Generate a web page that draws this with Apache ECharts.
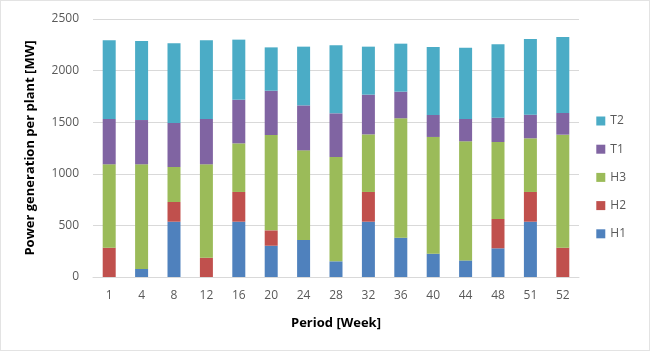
<!DOCTYPE html>
<html>
<head>
<meta charset="utf-8">
<script src="https://cdn.jsdelivr.net/npm/echarts@6/dist/echarts.min.js"></script>
<style>
  html, body { margin: 0; padding: 0; background: #fff; }
  #chart { width: 648px; height: 349px; border: 1px solid #e3e3e3; }
</style>
</head>
<body>
<div id="chart"></div>
<script>
// weeks on the x axis
var weeks = ['1', '4', '8', '12', '16', '20', '24', '28', '32', '36', '40', '44', '48', '51', '52'];

// MW per plant
var h1 = [0, 78, 536, 0, 536, 303, 359, 152, 536, 381, 226, 161, 278, 536, 0];
var h2 = [284, 0, 191, 187, 288, 149, 0, 0, 288, 0, 0, 0, 284, 288, 284];
var h3 = [808, 1014, 339, 905, 471, 924, 868, 1011, 558, 1157, 1131, 1154, 746, 520, 1095];
var t1 = [439, 429, 426, 439, 423, 429, 436, 423, 385, 258, 213, 216, 236, 229, 210];
var t2 = [763, 766, 772, 763, 582, 420, 569, 659, 465, 465, 659, 691, 711, 733, 737];

var yTicks = [0, 500, 1000, 1500, 2000, 2500];

var dom = document.getElementById('chart');
var myChart = echarts.init(dom, null, { renderer: 'canvas' });

var font = 'Open Sans';

function barSeries(name, data, color) {
    return {
        name: name,
        type: 'bar',
        stack: 'total',
        barWidth: 13,
        data: data,
        itemStyle: { color: color },
        animation: false
    };
}

var option = {
    backgroundColor: '#fff',
    grid: {
        left: 92,
        right: 70,
        top: 18,
        bottom: 73
    },
    legend: {
        orient: 'vertical',
        right: 18,
        top: 109,
        itemWidth: 9,
        itemHeight: 9,
        itemGap: 16.2,
        icon: 'rect',
        data: ['T2', 'T1', 'H3', 'H2', 'H1'],
        textStyle: { fontFamily: font, fontSize: 12, color: '#595959' }
    },
    xAxis: {
        type: 'category',
        data: weeks,
        name: 'Period [Week]',
        nameLocation: 'middle',
        nameGap: 40,
        nameTextStyle: { fontFamily: font, fontSize: 13, fontWeight: 'bold', color: '#000' },
        axisLine: { lineStyle: { color: '#d9d9d9' } },
        axisTick: { show: false },
        axisLabel: { fontFamily: font, fontSize: 12, color: '#595959', margin: 13 }
    },
    yAxis: {
        type: 'value',
        min: yTicks[0],
        max: yTicks[yTicks.length - 1],
        interval: 500,
        name: 'Power generation per plant [MW]',
        nameLocation: 'middle',
        nameGap: 56,
        nameTextStyle: { fontFamily: font, fontSize: 13, fontWeight: 'bold', color: '#000' },
        axisLine: { show: false },
        axisTick: { show: false },
        splitLine: { lineStyle: { color: '#d9d9d9' } },
        axisLabel: {
            fontFamily: font, fontSize: 12, color: '#595959', margin: 14,
            formatter: function (v) { return String(v); }
        }
    },
    series: [
        barSeries('H1', h1, '#4f81bd'),
        barSeries('H2', h2, '#c0504d'),
        barSeries('H3', h3, '#9bbb59'),
        barSeries('T1', t1, '#8064a2'),
        barSeries('T2', t2, '#4bacc6')
    ]
};

myChart.setOption(option);
</script>
</body>
</html>
